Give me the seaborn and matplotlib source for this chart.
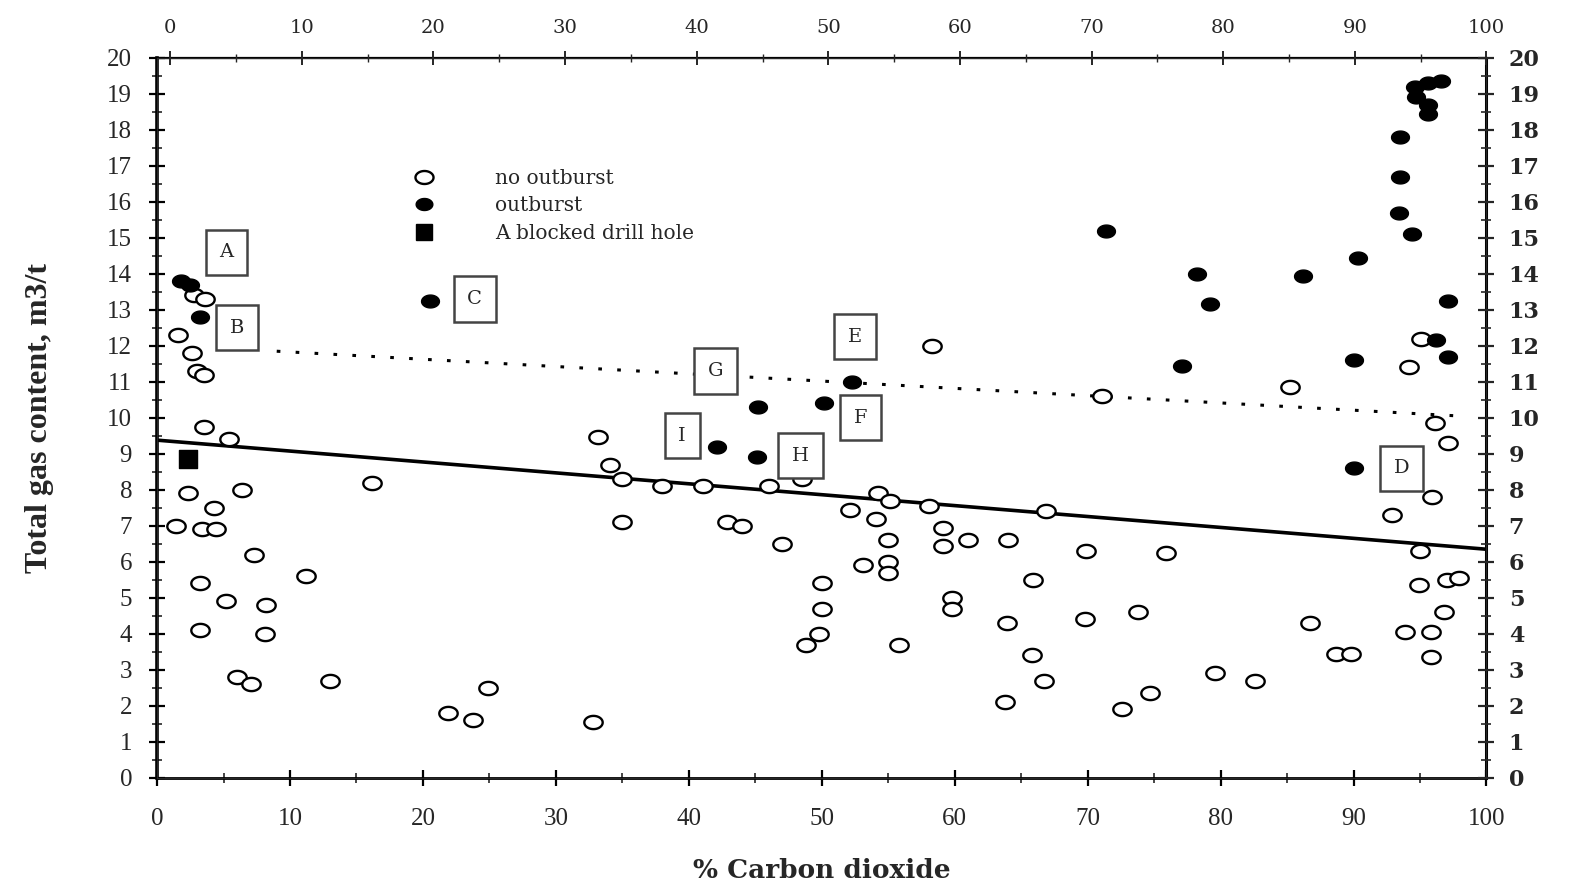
import numpy as np
import matplotlib
matplotlib.use("Agg")
from matplotlib import pyplot as plt
from matplotlib.path import Path
from matplotlib.lines import Line2D
from matplotlib.ticker import MultipleLocator
import seaborn as sns

# no outburst (open circles)
no_outburst_x = [1.6, 2.6, 3.0, 3.5, 2.8, 3.6, 3.5, 5.4, 16.2, 33.2, 34.1, 35.0, 38.0, 35.0,
                 2.3, 6.4, 4.3, 1.4, 3.4, 4.4, 7.3, 11.2, 3.2, 5.2, 8.2, 3.2, 8.1, 6.0, 7.1,
                 13.0, 21.9, 23.8, 24.9, 32.8,
                 58.3, 71.1, 41.1, 46.0, 48.5, 54.2, 55.1, 58.1, 66.9, 52.1, 54.1, 42.9, 44.0,
                 47.0, 59.1, 55.0, 59.1, 61.0, 64.0, 69.9, 53.1, 55.0, 55.0, 50.0, 65.9, 59.8,
                 59.8, 50.0, 63.9, 69.8, 73.8, 49.8, 48.8, 55.8, 65.8, 66.7, 63.8, 72.6, 74.7,
                 95.1, 94.2, 85.2, 96.1, 97.1, 95.9, 92.9, 95.0, 75.9, 94.9, 97.0, 97.9, 96.8,
                 86.7, 93.9, 95.8, 95.8, 88.7, 89.8, 79.6, 82.6]
no_outburst_y = [12.3, 11.8, 11.3, 11.2, 13.4, 13.3, 9.74, 9.4, 8.2, 9.46, 8.7, 8.3, 8.1, 7.1,
                 7.9, 8.0, 7.5, 7.0, 6.9, 6.9, 6.2, 5.6, 5.4, 4.9, 4.8, 4.1, 4.0, 2.8, 2.6,
                 2.7, 1.8, 1.6, 2.5, 1.55,
                 12.0, 10.6, 8.1, 8.1, 8.3, 7.9, 7.7, 7.55, 7.4, 7.45, 7.2, 7.1, 7.0,
                 6.5, 6.95, 6.6, 6.45, 6.6, 6.6, 6.3, 5.9, 6.0, 5.7, 5.4, 5.5, 5.0,
                 4.7, 4.7, 4.3, 4.4, 4.6, 4.0, 3.7, 3.7, 3.4, 2.7, 2.1, 1.9, 2.35,
                 12.2, 11.4, 10.85, 9.85, 9.3, 7.8, 7.3, 6.3, 6.25, 5.35, 5.5, 5.55, 4.6,
                 4.3, 4.05, 4.05, 3.35, 3.45, 3.45, 2.9, 2.7]

# outburst (filled circles)
outburst_x = [1.8, 2.5, 3.2, 20.5, 52.3, 45.2, 50.2, 42.1, 45.1,
              71.4, 78.2, 79.2, 86.2, 90.3, 77.1, 90.0,
              94.6, 95.6, 96.6, 94.7, 95.6, 95.6,
              93.5, 93.5, 93.4, 94.4, 97.1, 96.2, 97.1, 90.0]
outburst_y = [13.8, 13.7, 12.8, 13.25, 11.0, 10.3, 10.4, 9.2, 8.9,
              15.2, 14.0, 13.15, 13.95, 14.45, 11.45, 11.6,
              19.2, 19.3, 19.35, 18.9, 18.7, 18.45,
              17.8, 16.7, 15.7, 15.1, 13.25, 12.15, 11.7, 8.6]

# blocked drill hole
blocked_x = [2.3]
blocked_y = [8.85]

# trend lines
solid_x = [0, 100]
solid_y = [9.38, 6.35]
dotted_x = [9, 98]
dotted_y = [11.85, 10.05]

# boxed point labels
box_labels = ["A", "B", "C", "E", "G", "I", "H", "F", "D"]
box_x = [5.2, 6.0, 23.9, 52.5, 42.0, 39.5, 48.4, 52.9, 93.6]
box_y = [14.6, 12.5, 13.3, 12.25, 11.3, 9.5, 8.95, 10.0, 8.6]

sns.set_style("ticks")
plt.rcParams["font.family"] = ["Liberation Serif", "DejaVu Serif"]

# slightly flattened circle, like the scanned original
theta = np.linspace(0, 2 * np.pi, 61)
ellipse = Path(np.column_stack([np.cos(theta), 0.72 * np.sin(theta)]), closed=True)

fig = plt.figure(figsize=(15.77, 8.89), dpi=100)
ax = fig.add_axes([0.0996, 0.125, 0.843, 0.81])

# lines
sns.lineplot(x=solid_x, y=solid_y, color="black", linewidth=2.6, ax=ax)
ax.plot(dotted_x, dotted_y, color="black", linewidth=2.2, linestyle=(0, (1.2, 5)))

# points
sns.scatterplot(x=no_outburst_x, y=no_outburst_y, marker=ellipse, s=175, color="white",
                edgecolor="black", linewidth=1.7, ax=ax, zorder=3)
sns.scatterplot(x=outburst_x, y=outburst_y, marker=ellipse, s=165, color="black",
                edgecolor="black", linewidth=1, ax=ax, zorder=3)
sns.scatterplot(x=blocked_x, y=blocked_y, marker="s", s=160, color="black",
                edgecolor="black", ax=ax, zorder=3)

for lab, bx, by in zip(box_labels, box_x, box_y):
    ax.text(bx, by, lab, ha="center", va="center", fontsize=14, family="DejaVu Serif",
            zorder=4, bbox=dict(boxstyle="square,pad=0.7", facecolor="white",
                                edgecolor="#444444", linewidth=1.8))

# legend
handles = [
    Line2D([], [], marker=ellipse, linestyle="none", markersize=13, markerfacecolor="white",
           markeredgecolor="black", markeredgewidth=1.7),
    Line2D([], [], marker=ellipse, linestyle="none", markersize=12, markerfacecolor="black",
           markeredgecolor="black"),
    Line2D([], [], marker="s", linestyle="none", markersize=11, markerfacecolor="black",
           markeredgecolor="black"),
]
ax.legend(handles, ["no outburst", "outburst", "A blocked drill hole"], loc="upper left",
          bbox_to_anchor=(0.186, 0.86), frameon=False, handlelength=1.0, handletextpad=3.0,
          labelspacing=0.42, borderpad=0, prop={"family": "DejaVu Serif", "size": 14.5})

ax.set_xlim(0, 100)
ax.set_ylim(0, 20)
ax.xaxis.set_major_locator(MultipleLocator(10))
ax.xaxis.set_minor_locator(MultipleLocator(5))
ax.yaxis.set_major_locator(MultipleLocator(1))
ax.yaxis.set_minor_locator(MultipleLocator(0.5))
ax.tick_params(axis="both", which="major", direction="inout", length=12, width=1.6,
               labelsize=18, color="black")
ax.tick_params(axis="x", which="major", pad=16)
ax.tick_params(axis="y", which="major", pad=12)
ax.tick_params(axis="both", which="minor", direction="inout", length=7, width=1.2)
for sp, lw in [("left", 2.6), ("bottom", 2.0), ("top", 1.6), ("right", 2.2)]:
    ax.spines[sp].set_linewidth(lw)
    ax.spines[sp].set_color("black")

ax.set_xlabel("% Carbon dioxide", fontsize=19, fontweight="bold", family="DejaVu Serif",
              labelpad=20)
ax.set_ylabel("Total gas content, m3/t", fontsize=23, fontweight="bold", labelpad=38)

# top axis (slightly offset scale, as on the original)
ax_top = ax.twiny()
ax_top.set_xlim(-1, 100)
ax_top.xaxis.set_major_locator(MultipleLocator(10))
ax_top.xaxis.set_minor_locator(MultipleLocator(5))
ax_top.tick_params(axis="x", which="major", direction="inout", length=10, width=1.4,
                   labelsize=14, pad=10)
ax_top.tick_params(axis="x", which="minor", direction="inout", length=6, width=1.0)
for lab in ax_top.get_xticklabels():
    lab.set_family("DejaVu Serif")

# right axis
ax_r = ax.twinx()
ax_r.set_ylim(0, 20)
ax_r.yaxis.set_major_locator(MultipleLocator(1))
ax_r.yaxis.set_minor_locator(MultipleLocator(0.5))
ax_r.tick_params(axis="y", which="major", direction="inout", length=12, width=1.6,
                 labelsize=16, pad=10)
ax_r.tick_params(axis="y", which="minor", direction="inout", length=7, width=1.2)
for lab in ax_r.get_yticklabels():
    lab.set_family("DejaVu Serif")
    lab.set_fontweight("bold")

plt.savefig("out.png", dpi=100)
plt.close()
